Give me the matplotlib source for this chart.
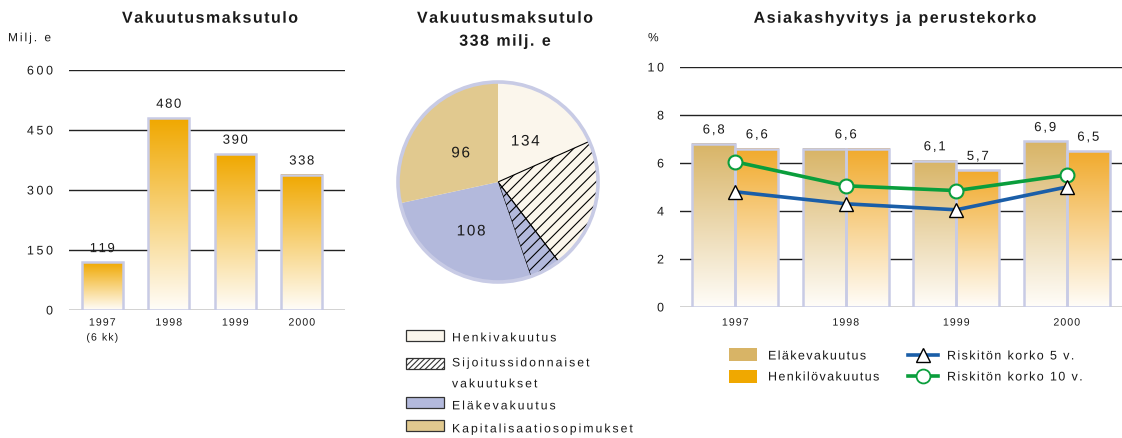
import numpy as np
import matplotlib
matplotlib.use("Agg")
import matplotlib.pyplot as plt
import matplotlib.colors as mcolors
from matplotlib.patches import Rectangle, Circle, PathPatch
from matplotlib.font_manager import FontProperties, findfont
from matplotlib.ft2font import FT2Font
from matplotlib.textpath import TextPath
from matplotlib.transforms import Affine2D, ScaledTranslation

try:
    from matplotlib.ft2font import LoadFlags
    NO_HINT = LoadFlags.NO_HINTING
except ImportError:
    from matplotlib.ft2font import LOAD_NO_HINTING as NO_HINT

plt.rcParams['font.family'] = ['Liberation Sans', 'DejaVu Sans']
plt.rcParams['hatch.linewidth'] = 0.8

# ---- data ----
years = ['1997', '1998', '1999', '2000']
premium_labels = ['1997\n(6 kk)', '1998', '1999', '2000']
premium_income = [119, 480, 390, 338]

pie_categories = ['Henkivakuutus', 'Sijoitussidonnaiset\nvakuutukset',
                  'Eläkevakuutus', 'Kapitalisaatiosopimukset']
henki_total = 134
elake_total = 108
kapital_total = 96
unit_linked_in_henki = 72   # estimated from the hatched area
unit_linked_in_elake = 17

bonus_elake = [6.8, 6.6, 6.1, 6.9]
bonus_henkilo = [6.6, 6.6, 5.7, 6.5]
riskfree_5y = [4.8, 4.3, 4.05, 5.0]
riskfree_10y = [6.05, 5.05, 4.85, 5.5]

# ---- style ----
W, H = 1122, 438
TXT = '#1a1a1a'
BORDER = '#c8cbe5'
ORANGE = '#f0a800'
TAN = '#d8b466'
CREAM = '#fbf6ec'
LAVENDER = '#b3b9dc'
PIE_TAN = '#e1c98f'
BLUE = '#1a5ea8'
GREEN = '#0a9e3c'


def box(x0, y0, x1, y1):
    return [x0 / W, 1 - y1 / H, (x1 - x0) / W, (y1 - y0) / H]


fig = plt.figure(figsize=(W / 100, H / 100), dpi=100)

# overlay in pixel coordinates for free text and legends, drawn on top
lay = fig.add_axes([0, 0, 1, 1])
lay.set_xlim(0, W)
lay.set_ylim(H, 0)
lay.axis('off')
lay.set_zorder(10)


def spaced(trans, x, y, s, size=9, weight='normal', spacing=1.5,
           ha='left', va='center', dx=0, dy=0):
    """Letter-spaced text drawn as glyph outlines; offsets in pixels."""
    prop = FontProperties(family='Liberation Sans', weight=weight)
    font = FT2Font(findfont(prop))
    font.set_size(size, 100)
    advs = [font.load_char(ord(c), flags=NO_HINT).linearHoriAdvance / 65536 for c in s]
    total = sum(advs) + spacing * (len(s) - 1)
    cx = {'left': 0, 'center': -total / 2, 'right': -total}[ha]
    em = size * 100 / 72
    base = {'center': -0.358 * em, 'top': -0.716 * em, 'baseline': 0}[va]
    for c, a in zip(s, advs):
        if c != ' ':
            tp = TextPath((0, 0), c, size=size, prop=prop)
            tr = (Affine2D().scale(100 / 72).translate(dx + cx, dy + base)
                  + ScaledTranslation(x, y, trans))
            lay.add_patch(PathPatch(tp, transform=tr, facecolor=TXT, snap=False,
                                    edgecolor='none', zorder=10))
        cx += a + spacing


def gradient_fill(ax, bars, top_color, bottom_color='#fffdf9'):
    top = np.array(mcolors.to_rgb(top_color))
    bot = np.array(mcolors.to_rgb(bottom_color))
    t = np.linspace(0, 1, 256)[:, None]
    img = (bot + (top - bot) * t)[:, None, :]
    for b in bars:
        x0, w, h = b.get_x(), b.get_width(), b.get_height()
        ax.imshow(img, extent=[x0, x0 + w, 0, h], origin='lower',
                  aspect='auto', interpolation='bilinear', zorder=2)


def style_axes(ax, yticks, xlabels, xpos, xpad):
    ax.set_yticks(yticks, labels=[])
    ax.set_xticks(xpos, labels=[])
    ax.grid(axis='y', color='#222222', linewidth=1.0)
    ax.set_axisbelow(True)
    for s in ax.spines.values():
        s.set_visible(False)
    ax.tick_params(length=0)
    for v in yticks:
        spaced(ax.get_yaxis_transform(), 0, v, str(v), size=9, spacing=2.6,
               ha='right', dx=-16)
    for xp, lab in zip(xpos, xlabels):
        for k, line in enumerate(lab.split('\n')):
            spaced(ax.get_xaxis_transform(), xp, 0, line, size=7.6, spacing=1.1,
                   ha='center', va='top', dy=-xpad - 15 * k)


# ---- left: premium income ----
ax1 = fig.add_axes(box(69, 70, 345, 310))
x1 = np.arange(len(years))
bars1 = ax1.bar(x1, premium_income, width=0.62, facecolor='none',
                edgecolor=BORDER, linewidth=1.8, zorder=3)
gradient_fill(ax1, bars1, ORANGE)
ax1.set_xlim(-0.5, 3.65)
ax1.set_ylim(0, 600)
style_axes(ax1, [0, 150, 300, 450, 600], premium_labels, x1, 8)
for xi, v in zip(x1, premium_income):
    spaced(ax1.transData, xi, v, str(v), size=9.5, spacing=1.5, ha='center', dy=15)

spaced(lay.transData, 210, 17, 'Vakuutusmaksutulo', size=11.5, weight='bold',
       spacing=1.5, ha='center')
spaced(lay.transData, 8, 37, 'Milj. e', size=8.6, spacing=2.0)

# ---- middle: pie ----
axp = fig.add_axes(box(393, 77, 603, 287))
sizes = [henki_total - unit_linked_in_henki, unit_linked_in_henki,
         unit_linked_in_elake, elake_total - unit_linked_in_elake, kapital_total]
wedges, _ = axp.pie(sizes, startangle=90, counterclock=False,
                    colors=[CREAM, CREAM, LAVENDER, LAVENDER, PIE_TAN],
                    wedgeprops=dict(linewidth=0))
for w in wedges[1:3]:
    w.set_hatch('///')
    w.set_edgecolor('black')
    w.set_linewidth(0.8)
axp.add_patch(Circle((0, 0), 1, fill=False, edgecolor=BORDER, linewidth=2.6, zorder=5))
axp.set_xlim(-1.05, 1.05)
axp.set_ylim(-1.05, 1.05)
axp.set_aspect('equal')
axp.axis('off')
for idx, val, r in [(0, henki_total, 0.5), (3, elake_total, 0.55), (4, kapital_total, 0.48)]:
    w = wedges[idx]
    ang = np.deg2rad((w.theta1 + w.theta2) / 2)
    spaced(axp.transData, r * np.cos(ang), r * np.sin(ang), str(val), size=11,
           spacing=1.7, ha='center')

spaced(lay.transData, 505, 17, 'Vakuutusmaksutulo', size=11.5, weight='bold',
       spacing=1.5, ha='center')
spaced(lay.transData, 505, 40, '338 milj. e', size=11.5, weight='bold',
       spacing=1.5, ha='center')

pie_leg = [(CREAM, None, 330, [337]), ('white', '//////', 358, [362, 383]),
           (LAVENDER, None, 397, [405]), (PIE_TAN, None, 420, [428])]
for (fc, hatch, py, tys), label in zip(pie_leg, pie_categories):
    lay.add_patch(Rectangle((406, py), 38, 11, facecolor=fc, edgecolor='#333333',
                            linewidth=0.9, hatch=hatch))
    for ty, line in zip(tys, label.split('\n')):
        spaced(lay.transData, 452, ty, line, size=8.8, spacing=2.0)

# ---- right: customer bonus and interest ----
ax3 = fig.add_axes(box(680, 67, 1122, 307))
x3 = np.arange(len(years))
bw = 0.39
bars_e = ax3.bar(x3 - bw / 2, bonus_elake, width=bw, facecolor='none',
                 edgecolor=BORDER, linewidth=1.8, zorder=3)
bars_h = ax3.bar(x3 + bw / 2, bonus_henkilo, width=bw, facecolor='none',
                 edgecolor=BORDER, linewidth=1.8, zorder=3)
gradient_fill(ax3, bars_e, TAN)
gradient_fill(ax3, bars_h, '#f1aa2c')
ax3.plot(x3, riskfree_10y, color=GREEN, linewidth=2.6, marker='o', markersize=10,
         markerfacecolor='white', markeredgecolor=GREEN, markeredgewidth=1.5, zorder=5)
ax3.plot(x3, riskfree_5y, color=BLUE, linewidth=2.6, marker='^', markersize=10,
         markerfacecolor='white', markeredgecolor='black', markeredgewidth=1.0, zorder=6)
ax3.set_xlim(-0.5, 3.5)
ax3.set_ylim(0, 10)
style_axes(ax3, [0, 2, 4, 6, 8, 10], years, x3, 11)


def fmt(v):
    return f'{v:.1f}'.replace('.', ',')


for xi, a, b in zip(x3, bonus_elake, bonus_henkilo):
    if a == b:
        spaced(ax3.transData, xi, a, fmt(a), size=9.5, spacing=1.8, ha='center', dy=15)
    else:
        spaced(ax3.transData, xi - bw / 2, a, fmt(a), size=9.5, spacing=1.8,
               ha='center', dy=15)
        spaced(ax3.transData, xi + bw / 2, b, fmt(b), size=9.5, spacing=1.8,
               ha='center', dy=15)

spaced(lay.transData, 895, 17, 'Asiakashyvitys ja perustekorko', size=11.5,
       weight='bold', spacing=1.5, ha='center')
spaced(lay.transData, 648, 37, '%', size=8.6)

for fc, py, ty, label in [(TAN, 348, 355, 'Eläkevakuutus'),
                          (ORANGE, 370, 376, 'Henkilövakuutus')]:
    lay.add_patch(Rectangle((729, py), 28, 13, facecolor=fc, edgecolor='none'))
    spaced(lay.transData, 768, ty, label, size=9, spacing=1.4)

for col, mk, mec, ty, label in [(BLUE, '^', 'black', 355, 'Riskitön korko 5 v.'),
                                (GREEN, 'o', GREEN, 376, 'Riskitön korko 10 v.')]:
    lay.plot([908, 938], [ty, ty], color=col, linewidth=2.6)
    lay.plot([923], [ty], marker=mk, markersize=10, markerfacecolor='white',
             markeredgecolor=mec, markeredgewidth=1.3 if mk == 'o' else 1.0, color=col)
    spaced(lay.transData, 947, ty, label, size=9, spacing=1.4)

fig.savefig('out.png', dpi=100)
